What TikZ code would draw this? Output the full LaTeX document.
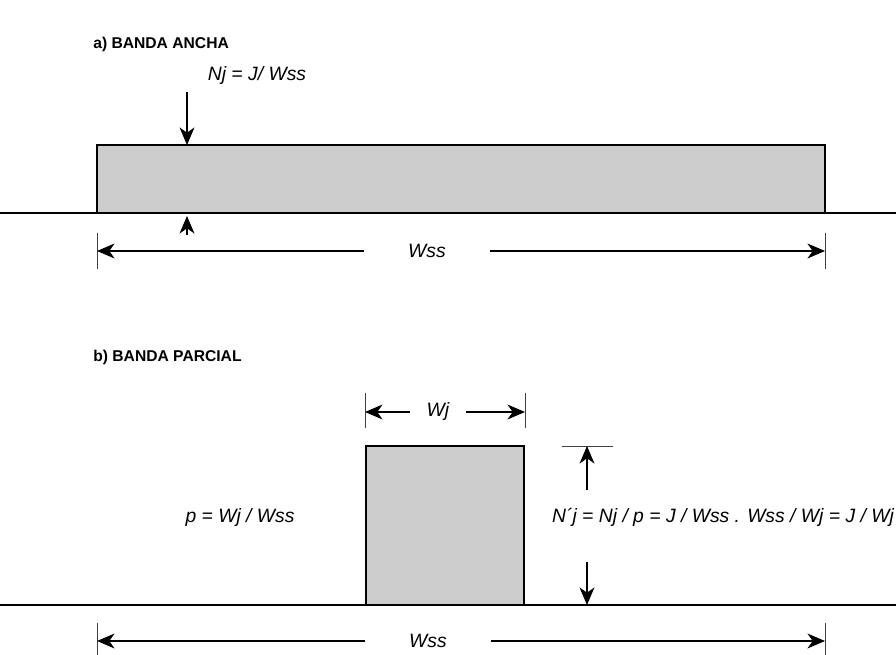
\documentclass[tikz,border=0pt]{standalone}
\usepackage{fontspec}
\setmainfont{Liberation Sans}
\usetikzlibrary{arrows.meta}
\tikzset{
  dim/.style={-{Stealth[length=10pt,width=8.5pt,inset=3pt]}, line width=0.6pt},
  tickline/.style={line width=0.5pt, black!75},
  band/.style={draw, line width=0.7pt, fill=black!20},
  ground/.style={line width=0.7pt},
  lbl/.style={font=\itshape\fontsize{11}{13}\selectfont, inner sep=0pt},
  ttl/.style={font=\bfseries\fontsize{8.9}{10}\selectfont, anchor=west, inner sep=0pt},
}
\begin{document}
\begin{tikzpicture}[x=0.02cm,y=-0.02cm]
	\useasboundingbox (0,0) rectangle (896,655);
	% a) banda ancha
	\node[ttl] (ttla) at (93,44) {a) BANDA ANCHA};
	\draw[band] (97,145) rectangle (825,213);
	\coordinate (gnda1) at (0,213);
	\coordinate (gnda2) at (896,213);
	\draw[ground] (gnda1) -- (gnda2);
	\node[lbl] (nj) at (257,76) {Nj = J/ Wss};
	\coordinate (njtop) at (187,92);
	\coordinate (njtip) at (187,145);
	\draw[dim] (njtop) -- (njtip);
	\coordinate (reabot) at (187,235);
	\coordinate (reatip) at (187,216);
	\draw[dim] (reabot) -- (reatip);
	\coordinate (wssa1) at (97,251);
	\coordinate (wssa2) at (825,251);
	\draw[tickline] (wssa1) ++(0,-18) -- ++(0,36);
	\draw[tickline] (wssa2) ++(0,-18) -- ++(0,36);
	\node[lbl, minimum width=2.5cm] (wssa) at (427,251) {Wss};
	\draw[dim] (wssa) -- (wssa1);
	\draw[dim] (wssa) -- (wssa2);
	% b) banda parcial
	\node[ttl] (ttlb) at (93,357) {b) BANDA PARCIAL};
	\draw[band] (366,446) rectangle (524,605);
	\coordinate (gndb1) at (0,605);
	\coordinate (gndb2) at (896,605);
	\draw[ground] (gndb1) -- (gndb2);
	\coordinate (wj1) at (365,412);
	\coordinate (wj2) at (525,412);
	\draw[tickline] (wj1) ++(0,-19) -- ++(0,35);
	\draw[tickline] (wj2) ++(0,-19) -- ++(0,35);
	\node[lbl, minimum width=1.1cm] (wj) at (438,412) {Wj};
	\draw[dim] (wj) -- (wj1);
	\draw[dim] (wj) -- (wj2);
	\node[lbl] (pform) at (240,518) {p = Wj / Wss};
	\node[lbl] (njp) at (723,517) {N´j = Nj / p = J / Wss . Wss / Wj = J / Wj};
	\coordinate (njptop) at (587,446);
	\coordinate (njpbot) at (587,605);
	\draw[tickline] (njptop) ++(-25,0) -- ++(51,0);
	\draw[dim] (587,490) -- (njptop);
	\draw[dim] (587,562) -- (njpbot);
	\coordinate (wssb1) at (97,641);
	\coordinate (wssb2) at (825,641);
	\draw[tickline] (wssb1) ++(0,-18) -- ++(0,32);
	\draw[tickline] (wssb2) ++(0,-18) -- ++(0,32);
	\node[lbl, minimum width=2.5cm] (wssb) at (428,641) {Wss};
	\draw[dim] (wssb) -- (wssb1);
	\draw[dim] (wssb) -- (wssb2);
\end{tikzpicture}
\end{document}
